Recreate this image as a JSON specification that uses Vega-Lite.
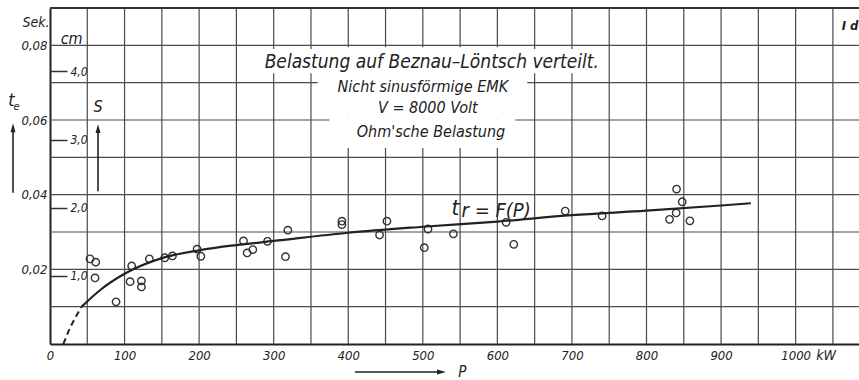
{
  "$schema": "https://vega.github.io/schema/vega-lite/v6.json",
  "width": 809,
  "height": 336,
  "autosize": "none",
  "padding": {"left": 50, "top": 8, "right": 0, "bottom": 36},
  "background": "white",
  "config": {
    "view": {"stroke": null},
    "font": "DejaVu Sans Condensed, Liberation Sans Narrow, DejaVu Sans",
    "text": {"fontStyle": "italic", "color": "#222"},
    "axis": {"labelColor": "#222", "labelFontStyle": "italic", "labelFontSize": 13, "grid": false}
  },
  "datasets": {
    "gridx": [
      {"P": 50}, {"P": 100}, {"P": 150}, {"P": 200}, {"P": 250}, {"P": 300}, {"P": 350}, {"P": 400}, {"P": 450}, {"P": 500}, {"P": 550},
      {"P": 600}, {"P": 650}, {"P": 700}, {"P": 750}, {"P": 800}, {"P": 850}, {"P": 900}, {"P": 950}, {"P": 1000}, {"P": 1050}
    ],
    "gridy": [
      {"t": 0.01}, {"t": 0.02}, {"t": 0.03}, {"t": 0.04}, {"t": 0.05}, {"t": 0.06}, {"t": 0.07}, {"t": 0.08}
    ],
    "border": [{"t": 0.09}],
    "points": [
      {"P": 53.7, "t": 0.0228}, {"P": 61.3, "t": 0.0219}, {"P": 60.4, "t": 0.0177}, {"P": 88.6, "t": 0.0113},
      {"P": 109.6, "t": 0.0209}, {"P": 107.4, "t": 0.0167}, {"P": 122.6, "t": 0.0169}, {"P": 122.6, "t": 0.0153},
      {"P": 133.3, "t": 0.0228}, {"P": 153.9, "t": 0.0231}, {"P": 164.2, "t": 0.0236}, {"P": 197.3, "t": 0.0254},
      {"P": 202.3, "t": 0.0235}, {"P": 259.5, "t": 0.0276}, {"P": 264.4, "t": 0.0244}, {"P": 272, "t": 0.0253},
      {"P": 291.7, "t": 0.0275}, {"P": 319, "t": 0.0305}, {"P": 315.8, "t": 0.0234}, {"P": 391.5, "t": 0.0329},
      {"P": 391.5, "t": 0.032}, {"P": 442, "t": 0.0292}, {"P": 451.9, "t": 0.0329}, {"P": 502, "t": 0.0258},
      {"P": 507, "t": 0.0308}, {"P": 541, "t": 0.0295}, {"P": 611.7, "t": 0.0326}, {"P": 622, "t": 0.0267},
      {"P": 691, "t": 0.0356}, {"P": 740.5, "t": 0.0343}, {"P": 840.3, "t": 0.0415}, {"P": 847.9, "t": 0.0381},
      {"P": 839.8, "t": 0.0351}, {"P": 830.9, "t": 0.0334}, {"P": 858.2, "t": 0.033}
    ],
    "curve": [
      {"P": 42.5, "t": 0.01}, {"P": 67, "t": 0.0144}, {"P": 100, "t": 0.0188}, {"P": 150, "t": 0.023},
      {"P": 200, "t": 0.0251}, {"P": 250, "t": 0.0265}, {"P": 300, "t": 0.0276}, {"P": 400, "t": 0.0298},
      {"P": 500, "t": 0.0314}, {"P": 600, "t": 0.0328}, {"P": 700, "t": 0.0345}, {"P": 800, "t": 0.0357},
      {"P": 900, "t": 0.0371}, {"P": 940, "t": 0.0377}
    ],
    "dashed": [
      {"P": 17.9, "t": 0.0}, {"P": 24.6, "t": 0.0033}, {"P": 33.5, "t": 0.0069}, {"P": 42.5, "t": 0.01}
    ],
    "mask": [
      {"P": 359, "P2": 640, "t": 0.0605, "t2": 0.0795},
      {"P": 375, "P2": 624, "t": 0.0525, "t2": 0.0605},
      {"P": 290, "P2": 740, "t": 0.0725, "t2": 0.079}
    ],
    "title": [{"P": 512, "t": 0.0755, "label": "Belastung auf Beznau–Löntsch verteilt."}],
    "sub": [
      {"P": 500, "t": 0.0689, "label": "Nicht sinusförmige EMK"},
      {"P": 506.7, "t": 0.0632, "label": "V = 8000 Volt"},
      {"P": 511, "t": 0.0568, "label": "Ohm'sche Belastung"}
    ],
    "small": [
      {"P": -18.8, "t": 0.0859, "label": "Sek."},
      {"P": 1041, "t": -0.0031, "label": "kW"}
    ],
    "sube": [
      {"P": -44.7, "t": 0.0636, "label": "e"}
    ],
    "big": [
      {"P": -51.6, "t": 0.0652, "label": "t"}
    ],
    "ptext": [
      {"P": 553, "t": -0.0075, "label": "P"}
    ],
    "tr_t": [{"P": 538.6, "t": 0.0345, "label": "t"}],
    "tr_r": [{"P": 552, "t": 0.034, "label": "r = F(P)"}],
    "id": [{"P": 1073, "t": 0.0851, "label": "I d"}],
    "tearrow": [{"P": -49.6, "t": 0.0405, "t2": 0.0575}],
    "tehead": [{"P": -49.6, "t": 0.0579}],
    "parrow": [{"P": 409, "P2": 522, "t": -0.0075}],
    "phead": [{"P": 525, "t": -0.0075}],
    "sarrow": [{"P": 64.4, "cm": 2.24, "cm2": 3.1}],
    "shead": [{"P": 64.4, "cm": 3.16}],
    "cmtext": [
      {"P": 64.4, "cm": 3.48, "label": "S"},
      {"P": 29, "cm": 4.48, "label": "cm"}
    ]
  },
  "layer": [
    {
      "data": {"name": "gridx"},
      "mark": {"type": "rule", "color": "#4a4a4a", "strokeWidth": 1.2},
      "encoding": {
        "x": {
          "field": "P", "type": "quantitative", "title": null,
          "scale": {"domain": [0, 1085], "nice": false, "zero": false},
          "axis": {
            "values": [0, 100, 200, 300, 400, 500, 600, 700, 800, 900, 1000],
            "grid": false, "tickSize": 0, "domainColor": "#222", "domainWidth": 2,
            "labelPadding": 5, "labelFlush": false, "labelOverlap": false,
            "labelExpr": "format(datum.value, 'd')"
          }
        }
      }
    },
    {
      "data": {"name": "gridy"},
      "mark": {"type": "rule", "color": "#4a4a4a", "strokeWidth": 1.2},
      "encoding": {
        "y": {
          "field": "t", "type": "quantitative", "title": null,
          "scale": {"domain": [0, 0.09], "nice": false, "zero": false},
          "axis": {
            "values": [0.02, 0.04, 0.06, 0.08],
            "grid": false, "tickSize": 0, "domainColor": "#222", "domainWidth": 2,
            "labelPadding": 3,
            "labelExpr": "replace(format(datum.value, '.2f'), '.', ',')"
          }
        }
      }
    },
    {
      "data": {"name": "border"},
      "mark": {"type": "rule", "color": "#333", "strokeWidth": 1.8},
      "encoding": {
        "y": {
          "field": "t", "type": "quantitative", "title": null,
          "scale": {"domain": [0, 0.09], "nice": false, "zero": false},
          "axis": null
        }
      }
    },
    {
      "data": {"name": "sarrow"},
      "mark": {"type": "rule", "color": "#222", "strokeWidth": 1.6},
      "encoding": {
        "x": {"field": "P", "type": "quantitative", "title": null},
        "y": {
          "field": "cm", "type": "quantitative", "title": null,
          "scale": {"domain": [0, 4.93], "nice": false, "zero": false},
          "axis": {
            "orient": "right", "offset": -809,
            "values": [1, 2, 3, 4],
            "grid": false, "domain": false,
            "ticks": true, "tickSize": 17, "tickWidth": 1.5, "tickColor": "#333",
            "labelPadding": 3, "labelFontSize": 12,
            "labelExpr": "replace(format(datum.value, '.1f'), '.', ',')"
          }
        },
        "y2": {"field": "cm2"}
      }
    },
    {
      "data": {"name": "shead"},
      "mark": {"type": "point", "shape": "M0,-1L0.55,1L-0.55,1Z", "filled": true, "size": 80, "color": "#222", "opacity": 1},
      "encoding": {
        "x": {"field": "P", "type": "quantitative", "title": null},
        "y": {"field": "cm", "type": "quantitative", "title": null, "scale": {"domain": [0, 4.93], "nice": false, "zero": false}, "axis": null}
      }
    },
    {
      "data": {"name": "cmtext"},
      "mark": {"type": "text", "fontSize": 16, "align": "center", "baseline": "middle"},
      "encoding": {
        "x": {"field": "P", "type": "quantitative", "title": null},
        "y": {"field": "cm", "type": "quantitative", "title": null, "scale": {"domain": [0, 4.93], "nice": false, "zero": false}, "axis": null},
        "text": {"field": "label"}
      }
    },
    {
      "layer": [
        {
          "data": {"name": "mask"},
          "mark": {"type": "rect", "fill": "white", "stroke": null},
          "encoding": {"x2": {"field": "P2"}, "y2": {"field": "t2"}}
        },
        {
          "data": {"name": "points"},
          "mark": {"type": "point", "filled": false, "size": 55, "stroke": "#333", "strokeWidth": 1.4, "opacity": 1}
        },
        {
          "data": {"name": "curve"},
          "mark": {"type": "line", "interpolate": "monotone", "color": "#222", "strokeWidth": 2.2}
        },
        {
          "data": {"name": "dashed"},
          "mark": {"type": "line", "interpolate": "monotone", "color": "#222", "strokeWidth": 2, "strokeDash": [6, 4]}
        },
        {
          "data": {"name": "title"},
          "mark": {"type": "text", "fontSize": 19, "align": "center", "baseline": "middle"},
          "encoding": {"text": {"field": "label"}}
        },
        {
          "data": {"name": "sub"},
          "mark": {"type": "text", "fontSize": 16, "align": "center", "baseline": "middle"},
          "encoding": {"text": {"field": "label"}}
        },
        {
          "data": {"name": "small"},
          "mark": {"type": "text", "fontSize": 14, "align": "center", "baseline": "middle"},
          "encoding": {"text": {"field": "label"}}
        },
        {
          "data": {"name": "sube"},
          "mark": {"type": "text", "fontSize": 11, "align": "center", "baseline": "middle"},
          "encoding": {"text": {"field": "label"}}
        },
        {
          "data": {"name": "big"},
          "mark": {"type": "text", "fontSize": 18, "align": "center", "baseline": "middle"},
          "encoding": {"text": {"field": "label"}}
        },
        {
          "data": {"name": "ptext"},
          "mark": {"type": "text", "fontSize": 15, "align": "center", "baseline": "middle"},
          "encoding": {"text": {"field": "label"}}
        },
        {
          "data": {"name": "tr_t"},
          "mark": {"type": "text", "fontSize": 22, "align": "left", "baseline": "alphabetic"},
          "encoding": {"text": {"field": "label"}}
        },
        {
          "data": {"name": "tr_r"},
          "mark": {"type": "text", "fontSize": 20, "align": "left", "baseline": "alphabetic"},
          "encoding": {"text": {"field": "label"}}
        },
        {
          "data": {"name": "id"},
          "mark": {"type": "text", "fontSize": 13, "fontWeight": "bold", "align": "center", "baseline": "middle"},
          "encoding": {"text": {"field": "label"}}
        },
        {
          "data": {"name": "tearrow"},
          "mark": {"type": "rule", "color": "#222", "strokeWidth": 1.6},
          "encoding": {"y2": {"field": "t2"}}
        },
        {
          "data": {"name": "tehead"},
          "mark": {"type": "point", "shape": "M0,-1L0.55,1L-0.55,1Z", "filled": true, "size": 80, "color": "#222", "opacity": 1}
        },
        {
          "data": {"name": "parrow"},
          "mark": {"type": "rule", "color": "#222", "strokeWidth": 1.4},
          "encoding": {"x2": {"field": "P2"}}
        },
        {
          "data": {"name": "phead"},
          "mark": {"type": "point", "shape": "M1,0L-1,0.55L-1,-0.55Z", "filled": true, "size": 80, "color": "#222", "opacity": 1}
        }
      ],
      "encoding": {
        "x": {"field": "P", "type": "quantitative", "title": null},
        "y": {"field": "t", "type": "quantitative", "title": null, "scale": {"domain": [0, 0.09], "nice": false, "zero": false}, "axis": null}
      },
      "resolve": {"scale": {"y": "shared"}}
    }
  ],
  "resolve": {"scale": {"y": "independent"}}
}
